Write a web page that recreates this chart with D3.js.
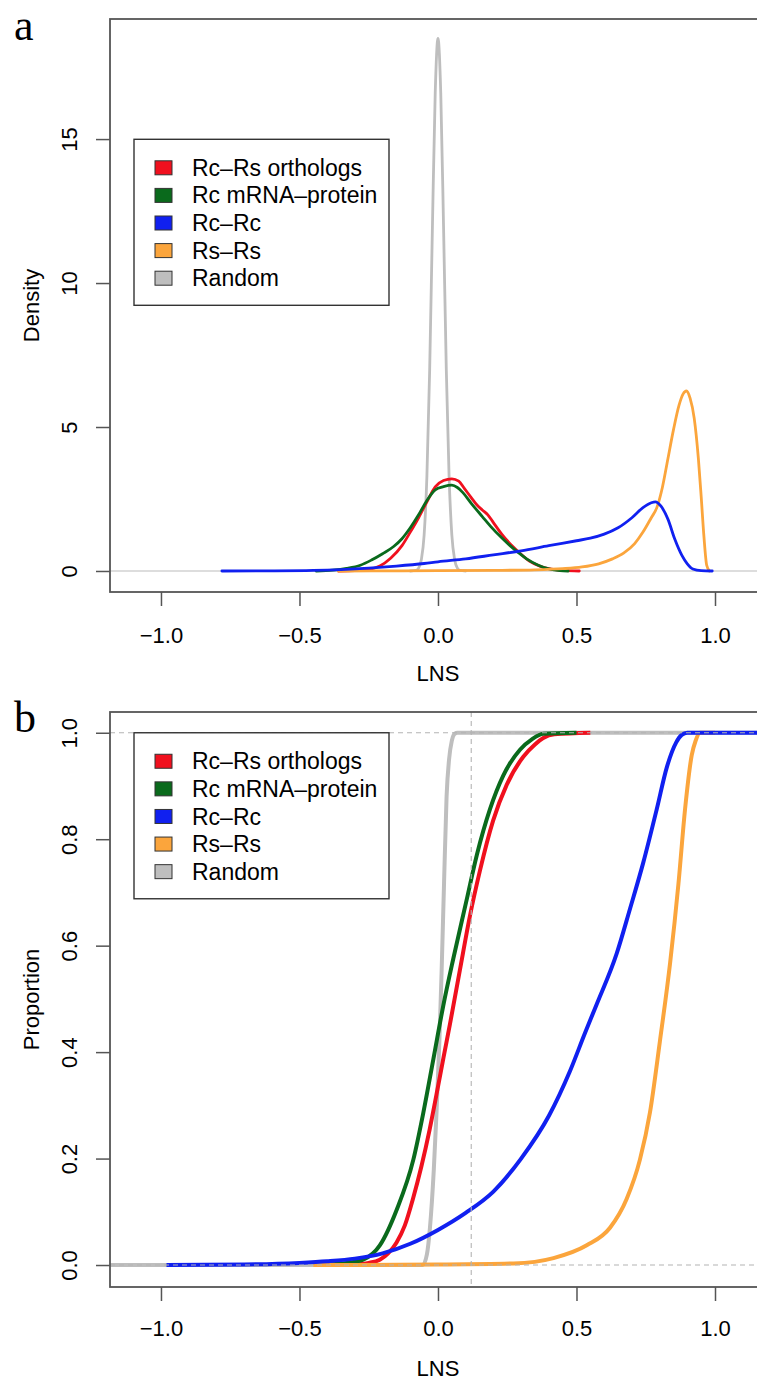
<!DOCTYPE html>
<html><head><meta charset="utf-8">
<script src="https://cdn.jsdelivr.net/npm/d3@7"></script>
<style>body{margin:0;background:#fff}svg{display:block}</style>
</head><body>
<svg id="chart" width="757" height="1384"></svg>
<script>
// ---------- data ----------
const seriesNames = ["Rc\u2013Rs orthologs", "Rc mRNA\u2013protein", "Rc\u2013Rc", "Rs\u2013Rs", "Random"];
const seriesColors = ["#f0101e", "#0a6a1c", "#1020f0", "#fba53c", "#bebebe"];
const xTicks = [-1.0, -0.5, 0.0, 0.5, 1.0];
const densityTicks = [0, 5, 10, 15];
const proportionTicks = [0, 0.2, 0.4, 0.6, 0.8, 1.0];
const thresholdLNS = 0.12;

// panel a: density curves  [LNS, density]
const densRcRs = [[-0.36,0],[-0.30,0.01],[-0.25,0.05],[-0.21,0.17],[-0.17,0.45],[-0.13,0.88],[-0.10,1.35],[-0.07,1.85],[-0.04,2.4],[-0.01,2.92],[0.02,3.14],[0.05,3.2],[0.075,3.12],[0.095,2.87],[0.12,2.55],[0.14,2.3],[0.16,2.12],[0.18,1.95],[0.20,1.68],[0.23,1.28],[0.27,0.85],[0.30,0.58],[0.33,0.34],[0.37,0.16],[0.40,0.08],[0.45,0.02],[0.51,0]];
const densRcMP = [[-0.44,0],[-0.38,0.03],[-0.33,0.09],[-0.28,0.2],[-0.24,0.38],[-0.20,0.6],[-0.16,0.85],[-0.13,1.12],[-0.10,1.5],[-0.07,1.95],[-0.04,2.45],[-0.01,2.82],[0.02,2.93],[0.05,2.98],[0.07,2.9],[0.09,2.72],[0.12,2.35],[0.16,1.89],[0.19,1.55],[0.23,1.15],[0.26,0.88],[0.29,0.64],[0.32,0.42],[0.36,0.21],[0.40,0.07],[0.44,0.01],[0.47,0]];
const densRcRc = [[-0.78,0],[-0.6,0.005],[-0.45,0.02],[-0.35,0.05],[-0.25,0.1],[-0.15,0.17],[-0.05,0.26],[0.0,0.32],[0.1,0.42],[0.2,0.56],[0.3,0.7],[0.4,0.88],[0.5,1.05],[0.55,1.14],[0.6,1.28],[0.65,1.5],[0.7,1.85],[0.74,2.2],[0.77,2.37],[0.785,2.4],[0.805,2.25],[0.83,1.8],[0.855,1.1],[0.88,0.55],[0.9,0.25],[0.92,0.07],[0.95,0.01],[0.99,0]];
const densRsRs = [[-0.36,0],[-0.2,0.005],[0.0,0.01],[0.2,0.02],[0.35,0.04],[0.45,0.08],[0.52,0.14],[0.58,0.25],[0.63,0.42],[0.67,0.62],[0.71,0.95],[0.74,1.35],[0.77,1.85],[0.79,2.2],[0.81,2.9],[0.83,3.9],[0.85,4.9],[0.87,5.75],[0.885,6.15],[0.897,6.25],[0.91,6.0],[0.925,5.3],[0.94,3.9],[0.95,2.6],[0.96,1.2],[0.97,0.2],[0.98,0]];
const densRandom = [[-0.1,0],[-0.08,0.02],[-0.07,0.1],[-0.06,0.4],[-0.05,1.25],[-0.04,3.3],[-0.03,7.0],[-0.02,12.0],[-0.01,16.6],[0.0,18.5],[0.01,16.6],[0.02,12.0],[0.03,7.0],[0.04,3.3],[0.05,1.25],[0.06,0.4],[0.07,0.1],[0.08,0.02],[0.1,0]];

// panel b: cumulative proportion  [LNS, proportion]
const cdfRcRs = [[-0.33,0],[-0.25,0.004],[-0.21,0.01],[-0.18,0.022],[-0.15,0.042],[-0.12,0.074],[-0.09,0.125],[-0.06,0.185],[-0.03,0.255],[0.0,0.335],[0.02,0.39],[0.043,0.452],[0.079,0.554],[0.115,0.655],[0.151,0.74],[0.199,0.835],[0.248,0.902],[0.308,0.955],[0.35,0.978],[0.38,0.99],[0.42,0.997],[0.55,1]];
const cdfRcMP = [[-0.44,0],[-0.35,0.003],[-0.3,0.006],[-0.27,0.01],[-0.21,0.037],[-0.149,0.104],[-0.089,0.198],[-0.053,0.286],[-0.017,0.386],[0.019,0.487],[0.055,0.575],[0.103,0.685],[0.14,0.77],[0.188,0.857],[0.236,0.92],[0.296,0.968],[0.34,0.988],[0.38,0.998],[0.5,1]];
const cdfRcRc = [[-0.98,0],[-0.7,0.001],[-0.5,0.004],[-0.4,0.007],[-0.3,0.012],[-0.2,0.022],[-0.1,0.04],[0.0,0.066],[0.1,0.098],[0.2,0.138],[0.3,0.2],[0.4,0.28],[0.477,0.365],[0.53,0.435],[0.573,0.49],[0.645,0.585],[0.693,0.669],[0.741,0.756],[0.79,0.857],[0.826,0.935],[0.86,0.982],[0.88,0.996],[0.9,1]];
const cdfRsRs = [[-0.45,0],[0.0,0.001],[0.273,0.003],[0.417,0.013],[0.537,0.037],[0.621,0.07],[0.681,0.124],[0.729,0.198],[0.765,0.286],[0.801,0.42],[0.838,0.568],[0.868,0.716],[0.892,0.857],[0.916,0.958],[0.93,0.985],[0.946,1],[1.0,1]];
const cdfRandom = [[-0.055,0],[-0.04,0.02],[-0.029,0.07],[-0.015,0.18],[-0.005,0.29],[0.005,0.42],[0.013,0.55],[0.022,0.72],[0.031,0.88],[0.04,0.95],[0.05,0.985],[0.06,0.998],[0.07,1]];

// ---------- layout ----------
const svg = d3.select("#chart");
const FONT = "'Liberation Sans', Arial, Helvetica, sans-serif";
const axisColor = "#555";
const textColor = "#000";

const x = d3.scaleLinear().domain([-1.184, 1.1516]).range([110, 757]);
const yA = d3.scaleLinear().domain([-0.73, 19.17]).range([592, 19]);
const yB = d3.scaleLinear().domain([-0.0413, 1.039]).range([1287, 712]);

const defs = svg.append("defs");
function clip(id, yScale) {
  defs.append("clipPath").attr("id", id).append("rect")
    .attr("x", 110).attr("y", yScale.range()[1])
    .attr("width", 757 - 110).attr("height", yScale.range()[0] - yScale.range()[1]);
}
clip("clipA", yA); clip("clipB", yB);

function frame(yScale) {
  svg.append("rect").attr("x", 110).attr("y", yScale.range()[1])
    .attr("width", 760).attr("height", yScale.range()[0] - yScale.range()[1])
    .attr("fill", "none").attr("stroke", axisColor).attr("stroke-width", 1.8);
}

function axes(yScale, yTicks, yFmt, yTitle, xLabelOffset) {
  const ax = svg.append("g").attr("transform", `translate(0,${yScale.range()[0]})`)
    .call(d3.axisBottom(x).tickValues(xTicks).tickSize(14).tickFormat(d3.format(".1f")));
  ax.select(".domain").remove();
  ax.selectAll("line").attr("stroke", axisColor).attr("stroke-width", 1.5);
  ax.selectAll("text").attr("y", xLabelOffset).attr("dy", "0.35em")
    .attr("font-family", FONT).attr("font-size", 22).attr("fill", textColor);

  const ay = svg.append("g").attr("transform", "translate(110,0)")
    .call(d3.axisLeft(yScale).tickValues(yTicks).tickSize(14).tickFormat(yFmt));
  ay.select(".domain").remove();
  ay.selectAll("line").attr("stroke", axisColor).attr("stroke-width", 1.5);
  ay.selectAll("text").attr("x", null).attr("dy", "0.35em")
    .attr("transform", "translate(-41,0) rotate(-90)")
    .attr("text-anchor", "middle")
    .attr("font-family", FONT).attr("font-size", 22).attr("fill", textColor);

  const r = yScale.range();
  svg.append("text").attr("transform", `translate(39,${(r[0] + r[1]) / 2}) rotate(-90)`)
    .attr("text-anchor", "middle").attr("font-family", FONT).attr("font-size", 22)
    .attr("fill", textColor).text(yTitle);
  svg.append("text").attr("x", x(0)).attr("y", r[0] + 81).attr("dy", "0.35em")
    .attr("text-anchor", "middle").attr("font-family", FONT).attr("font-size", 22)
    .attr("fill", textColor).text("LNS");
}

function legend(top) {
  const g = svg.append("g");
  g.append("rect").attr("x", 134).attr("y", top).attr("width", 255).attr("height", 166)
    .attr("fill", "#fff").attr("stroke", "#333").attr("stroke-width", 1.4);
  seriesNames.forEach((name, i) => {
    const cy = top + 28.5 + i * 27.6;
    g.append("rect").attr("x", 155).attr("y", cy - 7).attr("width", 17).attr("height", 14)
      .attr("fill", seriesColors[i]).attr("stroke", "#333").attr("stroke-width", 1);
    g.append("text").attr("x", 192).attr("y", cy).attr("dy", "0.35em")
      .attr("font-family", FONT).attr("font-size", 23).attr("fill", textColor).text(name);
  });
}

function panelLabel(t, yBase) {
  svg.append("text").attr("x", 14).attr("y", yBase)
    .attr("font-family", "'Liberation Serif', 'Times New Roman', serif")
    .attr("font-size", 44).attr("fill", textColor).text(t);
}

// ---------- panel a ----------
panelLabel("a", 39.5);
const gA = svg.append("g").attr("clip-path", "url(#clipA)");
gA.append("line").attr("x1", 110).attr("x2", 757).attr("y1", yA(0)).attr("y2", yA(0))
  .attr("stroke", "#d2d2d2").attr("stroke-width", 1.5);
const lineA = d3.line().x(d => x(d[0])).y(d => yA(d[1])).curve(d3.curveMonotoneX);
const densOrder = [[densRandom, 4], [densRcRs, 0], [densRcMP, 1], [densRsRs, 3], [densRcRc, 2]];
densOrder.forEach(([d, i]) => {
  gA.append("path").datum(d).attr("d", lineA).attr("fill", "none")
    .attr("stroke", seriesColors[i]).attr("stroke-width", 2.8)
    .attr("stroke-linejoin", "round").attr("stroke-linecap", "round");
});
frame(yA);
axes(yA, densityTicks, d3.format("d"), "Density", 43);
legend(139.3);

// ---------- panel b ----------
panelLabel("b", 732);
const gB = svg.append("g").attr("clip-path", "url(#clipB)");
const lineB = d3.line().x(d => x(d[0])).y(d => yB(d[1])).curve(d3.curveMonotoneX);
const [xLo, xHi] = x.domain();
const cdfOrder = [
  [[[xLo, 0], ...cdfRandom, [xHi, 1]], 4],
  [cdfRcRs, 0],
  [cdfRcMP, 1],
  [cdfRsRs, 3],
  [[...cdfRcRc, [xHi, 1]], 2]
];
cdfOrder.forEach(([d, i]) => {
  gB.append("path").datum(d).attr("d", lineB).attr("fill", "none")
    .attr("stroke", seriesColors[i]).attr("stroke-width", 4)
    .attr("stroke-linejoin", "round");
});
// reference dashed lines
[0, 1].forEach(v => {
  gB.append("line").attr("x1", 110).attr("x2", 757).attr("y1", yB(v)).attr("y2", yB(v))
    .attr("stroke", "#b4b4b4").attr("stroke-width", 1.1).attr("stroke-dasharray", "5,4");
});
gB.append("line").attr("x1", x(thresholdLNS)).attr("x2", x(thresholdLNS))
  .attr("y1", yB.range()[1]).attr("y2", yB.range()[0])
  .attr("stroke", "#b4b4b4").attr("stroke-width", 1.1).attr("stroke-dasharray", "5,4");
frame(yB);
axes(yB, proportionTicks, d3.format(".1f"), "Proportion", 41);
legend(yB(1));
</script>
</body></html>
